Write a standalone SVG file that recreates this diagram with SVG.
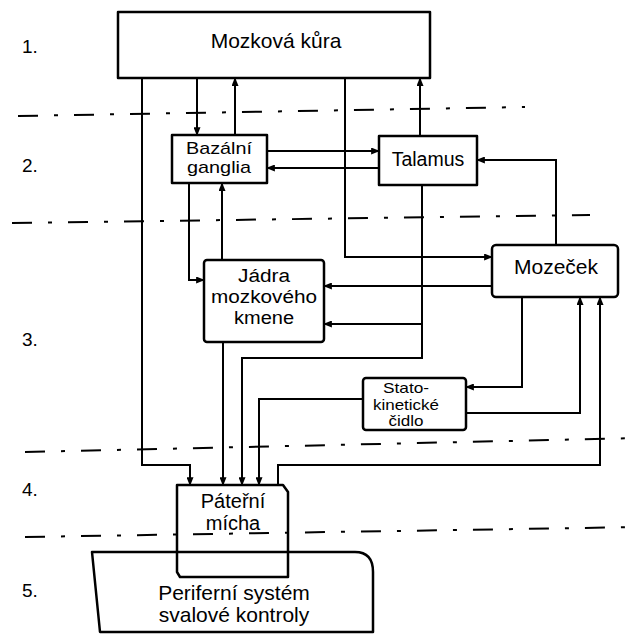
<svg xmlns="http://www.w3.org/2000/svg" width="640" height="640" viewBox="0 0 640 640">
<style>
.bx{fill:none;stroke:#000;stroke-width:2.5;stroke-linejoin:round}
.ln{fill:none;stroke:#000;stroke-width:2}
.lv{fill:none;stroke:#000;stroke-width:2;stroke-dasharray:20 16 4 16}
text{font-family:"Liberation Sans",Arial,sans-serif;fill:#000;text-anchor:middle}
.num{text-anchor:start;font-size:19px}
</style>
<defs>
<marker id="a" viewBox="0 0 10 8" refX="9" refY="4" markerWidth="9" markerHeight="7" markerUnits="userSpaceOnUse" orient="auto">
<path d="M0,0 L10,4 L0,8 Z" fill="#000"/>
</marker>
</defs>
<rect width="640" height="640" fill="#fff"/>
<g id="levels">
<path class="lv" d="M18,116 L525,107"/>
<path class="lv" d="M12,223 L590,215"/>
<path class="lv" d="M25,452 L640,438"/>
<path class="lv" d="M25,537 L640,527"/>
<text class="num" x="22" y="53">1.</text>
<text class="num" x="22" y="172">2.</text>
<text class="num" x="22" y="346">3.</text>
<text class="num" x="22" y="496">4.</text>
<text class="num" x="22" y="597">5.</text>
</g>
<g id="connectors">
<path class="ln" marker-end="url(#a)" d="M142,78 V465 H190 V485"/>
<path class="ln" marker-end="url(#a)" d="M197,78 V135"/>
<path class="ln" marker-end="url(#a)" d="M235,135 V78"/>
<path class="ln" marker-end="url(#a)" d="M345,78 V257 H492"/>
<path class="ln" marker-end="url(#a)" d="M420,136 V78"/>
<path class="ln" marker-end="url(#a)" d="M267,151 H379"/>
<path class="ln" marker-end="url(#a)" d="M379,168 H267"/>
<path class="ln" marker-end="url(#a)" d="M556,245 V160 H477"/>
<path class="ln" marker-end="url(#a)" d="M422,185 V358 H242 V485"/>
<path class="ln" marker-end="url(#a)" d="M422,324 H324"/>
<path class="ln" marker-end="url(#a)" d="M492,286 H324"/>
<path class="ln" marker-end="url(#a)" d="M189,183 V280 H204"/>
<path class="ln" marker-end="url(#a)" d="M222,260 V183"/>
<path class="ln" marker-end="url(#a)" d="M223,342 V485"/>
<path class="ln" marker-end="url(#a)" d="M522,297 V387 H466"/>
<path class="ln" marker-end="url(#a)" d="M466,413 H580 V297"/>
<path class="ln" marker-end="url(#a)" d="M278,485 V465 H600 V297"/>
<path class="ln" marker-end="url(#a)" d="M363,399 H259 V485"/>
</g>
<g id="kura">
<rect class="bx" x="118" y="12" width="312" height="66"/>
<text x="276" y="48" font-size="21">Mozková kůra</text>
</g>
<g id="bazalni">
<rect class="bx" x="172" y="135" width="95" height="48"/>
<text x="219" y="154" font-size="17" textLength="66" lengthAdjust="spacingAndGlyphs">Bazální</text>
<text x="219" y="173" font-size="17" textLength="64" lengthAdjust="spacingAndGlyphs">ganglia</text>
</g>
<g id="talamus">
<rect class="bx" x="379" y="136" width="98" height="49"/>
<text x="428" y="166" font-size="19.5">Talamus</text>
</g>
<g id="jadra">
<rect class="bx" x="204" y="260" width="120" height="82" rx="3"/>
<text x="264" y="282" font-size="18" textLength="52" lengthAdjust="spacingAndGlyphs">Jádra</text>
<text x="264" y="303" font-size="18" textLength="106" lengthAdjust="spacingAndGlyphs">mozkového</text>
<text x="264" y="324" font-size="18" textLength="60" lengthAdjust="spacingAndGlyphs">kmene</text>
</g>
<g id="mozecek">
<rect class="bx" x="492" y="245" width="126" height="52" rx="4"/>
<text x="556" y="274" font-size="21">Mozeček</text>
</g>
<g id="cidlo">
<rect class="bx" x="363" y="378" width="103" height="52" rx="3"/>
<text x="406" y="393" font-size="14.5" textLength="46" lengthAdjust="spacingAndGlyphs">Stato-</text>
<text x="406" y="409.5" font-size="14.5" textLength="66" lengthAdjust="spacingAndGlyphs">kinetické</text>
<text x="406" y="426" font-size="14.5" textLength="35" lengthAdjust="spacingAndGlyphs">čidlo</text>
</g>
<g id="micha">
<path class="bx" d="M177,485 H283 L288,492 V577 H180 L177,572 Z"/>
<text x="233" y="508" font-size="20">Páteřní</text>
<text x="233" y="530" font-size="20">mícha</text>
</g>
<g id="periferni">
<path class="bx" d="M92,552 H355 Q373,552 373,572 V632 H100 Z"/>
<text x="234" y="600" font-size="21">Periferní systém</text>
<text x="234" y="622" font-size="21">svalové kontroly</text>
</g>
</svg>
